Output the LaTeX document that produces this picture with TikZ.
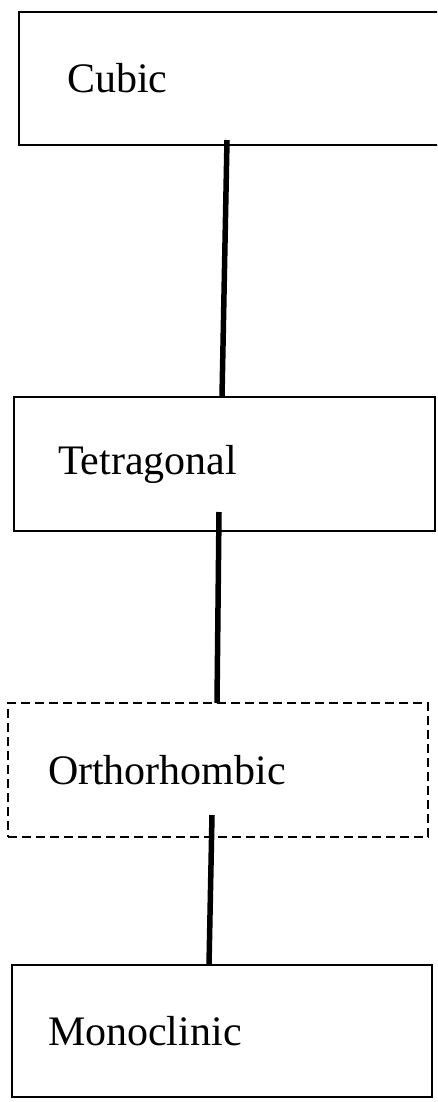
\documentclass[tikz,border=0pt]{standalone}
\usepackage{fontspec}
\setmainfont{Liberation Serif}
\begin{document}
\begin{tikzpicture}[x=1pt,y=-1pt,
  sys/.style={draw,line width=2.2pt,rectangle,anchor=north west,outer sep=0pt,align=left,inner ysep=0pt,font=\fontsize{42}{50}\selectfont},
  link/.style={line width=5.5pt}]
\useasboundingbox (0,0) rectangle (437,1102);
\clip (0,0) rectangle (437,1102);
\node[sys,minimum height=133pt,text width=339pt,inner xsep=48pt] (cub) at (19,12) {Cubic};
\node[sys,minimum height=134pt,text width=333pt,inner xsep=44pt] (tet) at (14,397) {Tetragonal};
\node[sys,dash pattern=on 9pt off 5pt,minimum height=134pt,text width=340pt,inner xsep=40pt] (ort) at (8,703) {Orthorhombic};
\node[sys,minimum height=132pt,text width=348pt,inner xsep=36pt] (mon) at (12,965) {Monoclinic};
\draw[link] ([xshift=208pt,yshift=5pt]cub.south west)--([xshift=208pt]tet.north west);
\draw[link] ([xshift=205pt,yshift=19pt]tet.south west)--([xshift=209pt]ort.north west);
\draw[link] ([xshift=204pt,yshift=22pt]ort.south west)--([xshift=197pt]mon.north west);
\end{tikzpicture}
\end{document}
